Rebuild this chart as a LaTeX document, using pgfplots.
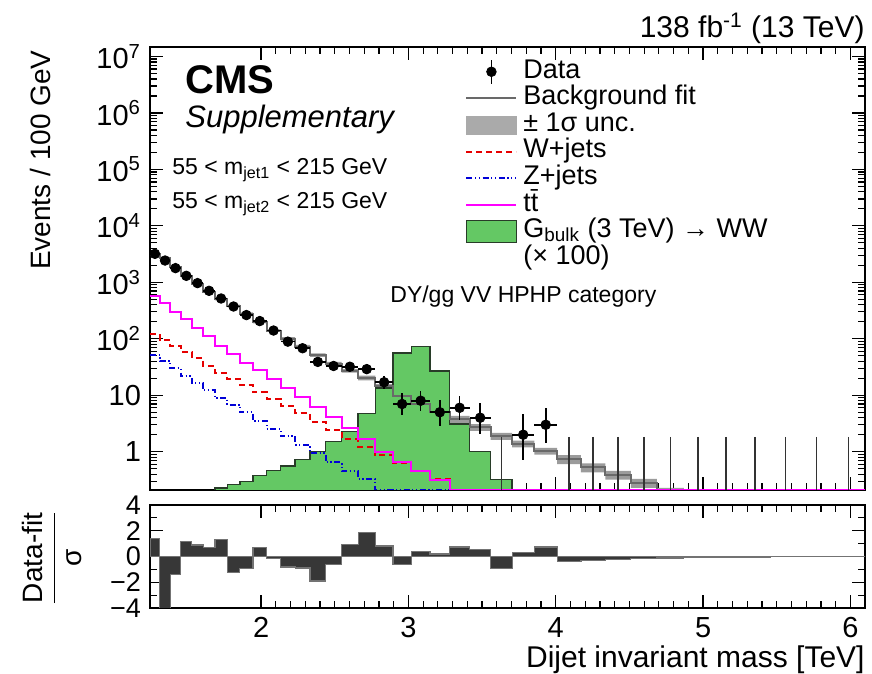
\documentclass[border=0pt]{standalone}
\usepackage{fontspec}
\setmainfont{Liberation Sans}
\usepackage{pgfplots}
\pgfplotsset{compat=1.18}
\usepackage{pgfplotstable}
\usepgfplotslibrary{fillbetween}

\definecolor{sig}{RGB}{100,200,100}
\definecolor{sigline}{RGB}{40,60,40}
\definecolor{fitgray}{RGB}{105,105,105}
\definecolor{bandgray}{RGB}{155,155,155}
\definecolor{wred}{RGB}{230,0,0}
\definecolor{zblue}{RGB}{0,0,215}
\definecolor{ttmag}{RGB}{255,0,255}
\definecolor{pullgray}{RGB}{55,55,55}

% data: bin centre, count, half bin width, Poisson errors
\pgfplotstableread{
x y ex eyl eyh
1.2795 3193 0.0335 56.5 57.5
1.348 2432 0.035 49.3 50.3
1.419 1784 0.036 42.2 43.2
1.4925 1303 0.0375 36.1 37.1
1.5685 968 0.0385 31.1 32.1
1.647 707 0.040 26.6 27.6
1.7285 517 0.0415 22.7 23.7
1.813 373 0.043 19.3 20.3
1.9005 263 0.0445 16.2 17.2
1.991 206 0.046 14.4 15.4
2.0845 140 0.0475 11.8 12.8
2.1815 89 0.0495 9.4 10.5
2.2815 68 0.0505 8.2 9.3
2.385 39 0.053 6.2 7.3
2.492 33 0.054 5.7 6.8
2.6025 32 0.0565 5.6 6.7
2.717 29 0.058 5.4 6.4
2.835 17 0.060 4.1 5.2
2.957 7 0.062 2.6 3.8
3.083 8 0.064 2.8 4.0
3.213 5 0.066 2.2 3.4
3.3475 6 0.0685 2.4 3.6
3.487 4 0.071 1.9 3.2
3.779 2 0.075 1.3 2.6
3.932 3 0.078 1.6 2.9
}\datatab

% empty bins: upper error 1.84
\pgfplotstableread{
x y e
3.631 1.84 1.83
4.0905 1.84 1.83
4.254 1.84 1.83
4.423 1.84 1.83
4.5975 1.84 1.83
4.7775 1.84 1.83
4.9635 1.84 1.83
5.1555 1.84 1.83
5.354 1.84 1.83
5.559 1.84 1.83
5.77 1.84 1.83
5.988 1.84 1.83
}\zerotab

% background fit (lower bin edge), with 1 sigma band
\pgfplotstableread{
x f lo hi
1.246 3113 2988 3238
1.313 2650 2544 2756
1.383 1835 1762 1908
1.455 1288 1236 1340
1.530 936 899 973
1.607 682 655 709
1.687 505 480 530
1.770 383 364 402
1.856 279 265 293
1.945 198 188 208
2.037 139.6 132.6 146.6
2.132 99.9 92.9 106.9
2.231 72.9 67.8 78.0
2.332 51.6 48.0 55.2
2.438 36.4 33.9 38.9
2.546 27.0 25.1 28.9
2.659 20.3 18.3 22.3
2.775 14.3 12.9 15.7
2.895 9.80 8.82 10.78
3.019 6.92 6.23 7.61
3.147 5.02 4.52 5.52
3.279 3.78 3.25 4.31
3.416 2.71 2.33 3.09
3.558 1.886 1.622 2.150
3.704 1.382 1.189 1.575
3.854 1.028 0.884 1.172
4.010 0.736 0.604 0.868
4.171 0.527 0.432 0.622
4.337 0.389 0.319 0.459
4.509 0.280 0.230 0.330
4.686 0.195 0.160 0.230
4.869 0.135 0.105 0.165
5.058 0.093 0.073 0.113
5.253 0.064 0.050 0.078
5.455 0.044 0.034 0.054
5.663 0.030 0.023 0.037
5.877 0.021 0.016 0.026
6.099 0.021 0.016 0.026
}\fittab

% background components (lower bin edge)
\pgfplotstableread{
x w z tt
1.246 122 52 577
1.313 96 40 429
1.383 75 30 304
1.455 58 21.5 223
1.530 45.5 16.4 155
1.607 33 12.2 110
1.687 25 8.9 75
1.770 19.4 6.8 54
1.856 15 5.0 38
1.945 11.2 3.5 28
2.037 8.6 2.55 19.4
2.132 6.5 1.87 13.2
2.231 4.8 1.33 9.5
2.332 3.4 0.95 6.3
2.438 2.45 0.65 4.2
2.546 1.68 0.45 2.6
2.659 1.21 0.33 1.65
2.775 0.89 0.21 1.0
2.895 0.63 0.21 0.67
3.019 0.45 0.21 0.45
3.147 0.33 0.21 0.31
3.279 0.21 0.21 0.21
3.416 0.21 0.21 0.21
3.558 0.21 0.21 0.21
3.704 0.21 0.21 0.21
3.854 0.21 0.21 0.21
4.010 0.21 0.21 0.21
4.171 0.21 0.21 0.21
4.337 0.21 0.21 0.21
4.509 0.21 0.21 0.21
4.686 0.21 0.21 0.21
4.869 0.21 0.21 0.21
5.058 0.21 0.21 0.21
5.253 0.21 0.21 0.21
5.455 0.21 0.21 0.21
5.663 0.21 0.21 0.21
5.877 0.21 0.21 0.21
6.099 0.21 0.21 0.21
}\bkgtab

% signal x 100 (lower bin edge), closed to below the axis
\pgfplotstableread{
x s
1.687 0.01
1.687 0.228
1.770 0.26
1.856 0.30
1.945 0.376
2.037 0.46
2.132 0.56
2.231 0.72
2.332 1.0
2.438 1.5
2.546 2.3
2.659 4.7
2.775 13.4
2.895 56
3.019 73
3.147 27
3.279 3.1
3.416 1.0
3.558 0.32
3.704 0.32
3.704 0.01
}\sigtab

% pulls (lower bin edge)
\pgfplotstableread{
x p
1.246 1.42
1.313 -4.3
1.383 -1.37
1.455 1.15
1.530 0.9
1.607 0.68
1.687 1.3
1.770 -1.23
1.856 -0.96
1.945 0.68
2.037 -0.14
2.132 -0.82
2.231 -0.9
2.332 -1.9
2.438 -0.6
2.546 0.96
2.659 1.84
2.775 0.82
2.895 -0.63
3.019 0.41
3.147 0.19
3.279 0.74
3.416 0.55
3.558 -0.96
3.704 0.33
3.854 0.74
4.010 -0.41
4.171 -0.28
4.337 -0.21
4.509 -0.15
4.686 -0.11
4.869 -0.07
5.058 -0.05
5.253 -0.035
5.455 -0.024
5.663 -0.016
5.877 -0.011
6.099 -0.011
}\pulltab

\pgfplotsset{
  cmsaxis/.style={
    scale only axis,
    anchor=south west,
    width=357.5pt,
    xmin=1.246, xmax=6.099,
    axis line style={line width=1pt},
    tick style={black, line width=0.6pt},
    tick align=inside,
    major tick length=6.5pt,
    minor tick length=3.3pt,
    /pgf/number format/assume math mode=true,
    tick label style={font=\fontsize{14.5}{15}\selectfont},
  }
}

\begin{document}
\begin{tikzpicture}
\begin{axis}[cmsaxis,
  at={(75pt,92pt)},
  height=221.5pt,
  ymode=log, ymin=0.21, ymax=1.47e7,
  xtick={2,3,4,5,6}, xticklabels={}, minor x tick num=9,
  ytick={1,10,100,1000,10000,100000,1000000,10000000},
  yticklabels={1,10,10\textsuperscript{2},10\textsuperscript{3},10\textsuperscript{4},10\textsuperscript{5},10\textsuperscript{6},10\textsuperscript{7}},
  minor ytick={0.3,0.4,0.5,0.6,0.7,0.8,0.9,2,3,4,5,6,7,8,9,20,30,40,50,60,70,80,90,200,300,400,500,600,700,800,900,2000,3000,4000,5000,6000,7000,8000,9000,2e4,3e4,4e4,5e4,6e4,7e4,8e4,9e4,2e5,3e5,4e5,5e5,6e5,7e5,8e5,9e5,2e6,3e6,4e6,5e6,6e6,7e6,8e6,9e6},
  yticklabel style={xshift=-1pt},
  legend cell align=left,
  legend style={at={(axis description cs:0.4406,0.975)}, anchor=north west,
    draw=none, fill=none, inner sep=0pt, row sep=0pt, column sep=3pt,
    font=\fontsize{13.5}{15}\selectfont,
    nodes={inner sep=0pt, text height=9.8pt, text depth=3.5pt}},
]
\addlegendimage{legend image code/.code={\draw[black,line width=0.8pt] (12.5pt,-6pt)--(12.5pt,6pt); \fill[black] (12.5pt,0pt) circle (2.4pt);}}
\addlegendentry{Data}
\addlegendimage{legend image code/.code={\draw[fitgray,line width=1pt] (0pt,0pt)--(25pt,0pt);}}
\addlegendentry{Background fit}
\addlegendimage{legend image code/.code={\fill[bandgray!85] (0pt,-4.5pt) rectangle (25pt,4.5pt);}}
\addlegendentry{± 1σ unc.}
\addlegendimage{legend image code/.code={\draw[wred,line width=1pt,dash pattern=on 3pt off 2pt] (0pt,0pt)--(25pt,0pt);}}
\addlegendentry{W+jets}
\addlegendimage{legend image code/.code={\draw[zblue,line width=1pt,dash pattern=on 3pt off 1.3pt on 0.6pt off 1.3pt on 0.6pt off 1.3pt] (0pt,0pt)--(25pt,0pt);}}
\addlegendentry{Z+jets}
\addlegendimage{legend image code/.code={\draw[ttmag,line width=1pt] (0pt,0pt)--(25pt,0pt);}}
\addlegendentry{t\={t}}
\addlegendimage{legend image code/.code={\draw[sigline,fill=sig,line width=0.7pt] (0pt,-5.5pt) rectangle (25pt,5.5pt);}}
\addlegendentry{G\textsubscript{bulk} (3 TeV) → WW}
\addlegendimage{empty legend}
\addlegendentry{(× 100)}

% signal
\addplot[forget plot, const plot mark left, fill=sig, draw=sigline, line width=0.7pt] table[x=x,y=s]{\sigtab} -- cycle;
% uncertainty band
\addplot[forget plot, const plot mark left, draw=none, name path=up] table[x=x,y=hi]{\fittab};
\addplot[forget plot, const plot mark left, draw=none, name path=lo] table[x=x,y=lo]{\fittab};
\addplot[forget plot, fill=bandgray, draw=none] fill between[of=up and lo];
% background fit
\addplot[forget plot, const plot mark left, fitgray, line width=1pt] table[x=x,y=f]{\fittab};
% components
\addplot[forget plot, const plot mark left, wred, line width=1pt, dash pattern=on 3pt off 2pt] table[x=x,y=w]{\bkgtab};
\addplot[forget plot, const plot mark left, zblue, line width=1pt, dash pattern=on 3pt off 1.3pt on 0.6pt off 1.3pt on 0.6pt off 1.3pt] table[x=x,y=z]{\bkgtab};
\addplot[forget plot, const plot mark left, ttmag, line width=1pt] table[x=x,y=tt]{\bkgtab};
% data: empty bins (upper error only)
\addplot[forget plot, only marks, mark=*, mark options={draw opacity=0, fill opacity=0},
  error bars/.cd, y dir=minus, y explicit, error mark=none,
  error bar style={black!80, line width=0.8pt, solid, draw opacity=1}]
  table[x=x,y=y,y error minus=e]{\zerotab};
% data
\addplot[forget plot, only marks, mark=*, mark size=2.4pt, black,
  error bars/.cd, x dir=both, x explicit, y dir=both, y explicit, error mark=none,
  error bar style={black, line width=0.8pt}]
  table[x=x,y=y,x error=ex,y error plus=eyh,y error minus=eyl]{\datatab};
\end{axis}

\begin{axis}[cmsaxis,
  at={(75pt,33pt)},
  height=51.5pt,
  ymin=-4, ymax=4,
  xtick={2,3,4,5,6}, minor x tick num=9,
  ytick={-4,-2,0,2,4}, yticklabels={−4,−2,0,2,4}, minor y tick num=1,
  xticklabel style={yshift=-1pt},
  yticklabel style={xshift=-1pt, font=\fontsize{13.5}{14}\selectfont},
]
\addplot[const plot mark left, fill=pullgray, draw=black!55, line width=0.6pt] table[x=x,y=p]{\pulltab} \closedcycle;
\end{axis}

\begin{scope}[every node/.style={inner sep=0pt}]
\node[font=\fontsize{20}{22}\selectfont\bfseries, anchor=base west] at (92.5pt,290pt) {CMS};
\node[font=\fontsize{15.5}{17}\selectfont\itshape, anchor=base west] at (92.5pt,273pt) {Supplementary};
\node[font=\fontsize{11.5}{13}\selectfont, anchor=base west] at (86pt,249.5pt) {55 < m\textsubscript{jet1} < 215 GeV};
\node[font=\fontsize{11.5}{13}\selectfont, anchor=base west] at (86pt,232.5pt) {55 < m\textsubscript{jet2} < 215 GeV};
\node[font=\fontsize{11.5}{13}\selectfont, anchor=base west] at (195pt,185.5pt) {DY/gg VV HPHP category};
\node[font=\fontsize{15}{17}\selectfont, anchor=base east] at (432.5pt,318pt) {138 fb\textsuperscript{-1} (13 TeV)};
\node[font=\fontsize{14}{16}\selectfont, rotate=90, anchor=east] at (20pt,312pt) {Events / 100 GeV};
\node[font=\fontsize{15}{17}\selectfont, anchor=base east] at (432.5pt,3.2pt) {Dijet invariant mass [TeV]};
\node[font=\fontsize{14}{16}\selectfont, rotate=90] at (26pt,58pt) {$\displaystyle\frac{\mbox{Data-fit}}{\mbox{σ}}$};
\end{scope}

\pgfresetboundingbox
\useasboundingbox (0,0) rectangle (436pt,337pt);
\end{tikzpicture}
\end{document}
